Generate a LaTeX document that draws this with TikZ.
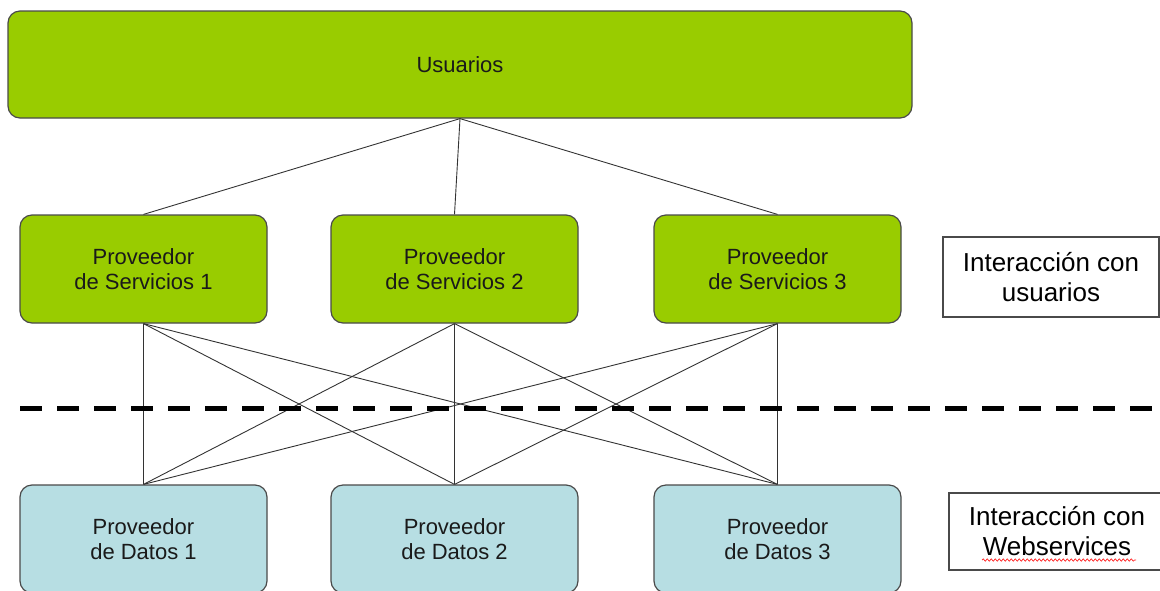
\documentclass[tikz,border=0pt]{standalone}
\usepackage{fontspec}
\setmainfont{Liberation Sans}
\usetikzlibrary{decorations.pathmorphing}
\definecolor{boxgreen}{HTML}{99CC00}
\definecolor{boxblue}{HTML}{B7DEE3}
\definecolor{boxedge}{HTML}{4A4A4A}
\definecolor{linkgray}{HTML}{333333}
\definecolor{txt}{HTML}{1A1A1A}
\tikzset{
  greenbox/.style={draw=boxedge, line width=1.2pt, fill=boxgreen, rounded corners=12pt,
    minimum width=247pt, minimum height=108pt, align=center, inner sep=0pt,
    font=\fontsize{22}{25.5}\selectfont, text=txt},
  bluebox/.style={greenbox, fill=boxblue},
  labelbox/.style={draw=boxedge, line width=1.2pt, fill=white, minimum width=216pt,
    align=center, inner sep=0pt, font=\fontsize{26}{30}\selectfont, text=black},
  link/.style={draw=linkgray, line width=0.9pt},
}
\begin{document}
\begin{tikzpicture}[x=1pt,y=-1pt]
\useasboundingbox (0,0) rectangle (1160,590);
\clip (0,0) rectangle (1160,590);
% top box
\node[greenbox, minimum width=904pt, minimum height=107pt] (u) at (460,64.5) {Usuarios};
% service providers
\node[greenbox] (s1) at (143.5,269) {Proveedor\\de Servicios 1};
\node[greenbox] (s2) at (454.5,269) {Proveedor\\de Servicios 2};
\node[greenbox] (s3) at (777.5,269) {Proveedor\\de Servicios 3};
% data providers
\node[bluebox] (d1) at (143.5,539) {Proveedor\\de Datos 1};
\node[bluebox] (d2) at (454.5,539) {Proveedor\\de Datos 2};
\node[bluebox] (d3) at (777.5,539) {Proveedor\\de Datos 3};
% labels
\node[labelbox, minimum height=80pt] (l1) at (1051,277) {Interacción con\\usuarios};
\node[labelbox, minimum height=77pt] (l2) at (1057,531.5) {Interacción con\\Webservices};
% connectors top
\foreach \s in {s1,s2,s3} \draw[link] (u.south) -- (\s.north);
% connectors bottom
\foreach \s in {s1,s2,s3}
  \foreach \d in {d1,d2,d3}
    \draw[link] (\s.south) -- (\d.north);
% dashed separator
\coordinate (dl) at (20,408);
\coordinate (dr) at (1165,408);
\draw[line width=5pt, dash pattern=on 22pt off 15pt] (dl) -- (dr);
% spell-check underline
\coordinate (wa) at (982,560);
\coordinate (wb) at (1136,560);
\draw[red!85, line width=0.7pt, decorate, decoration={snake, segment length=4pt, amplitude=1.2pt}] (wa) -- (wb);
\end{tikzpicture}
\end{document}
